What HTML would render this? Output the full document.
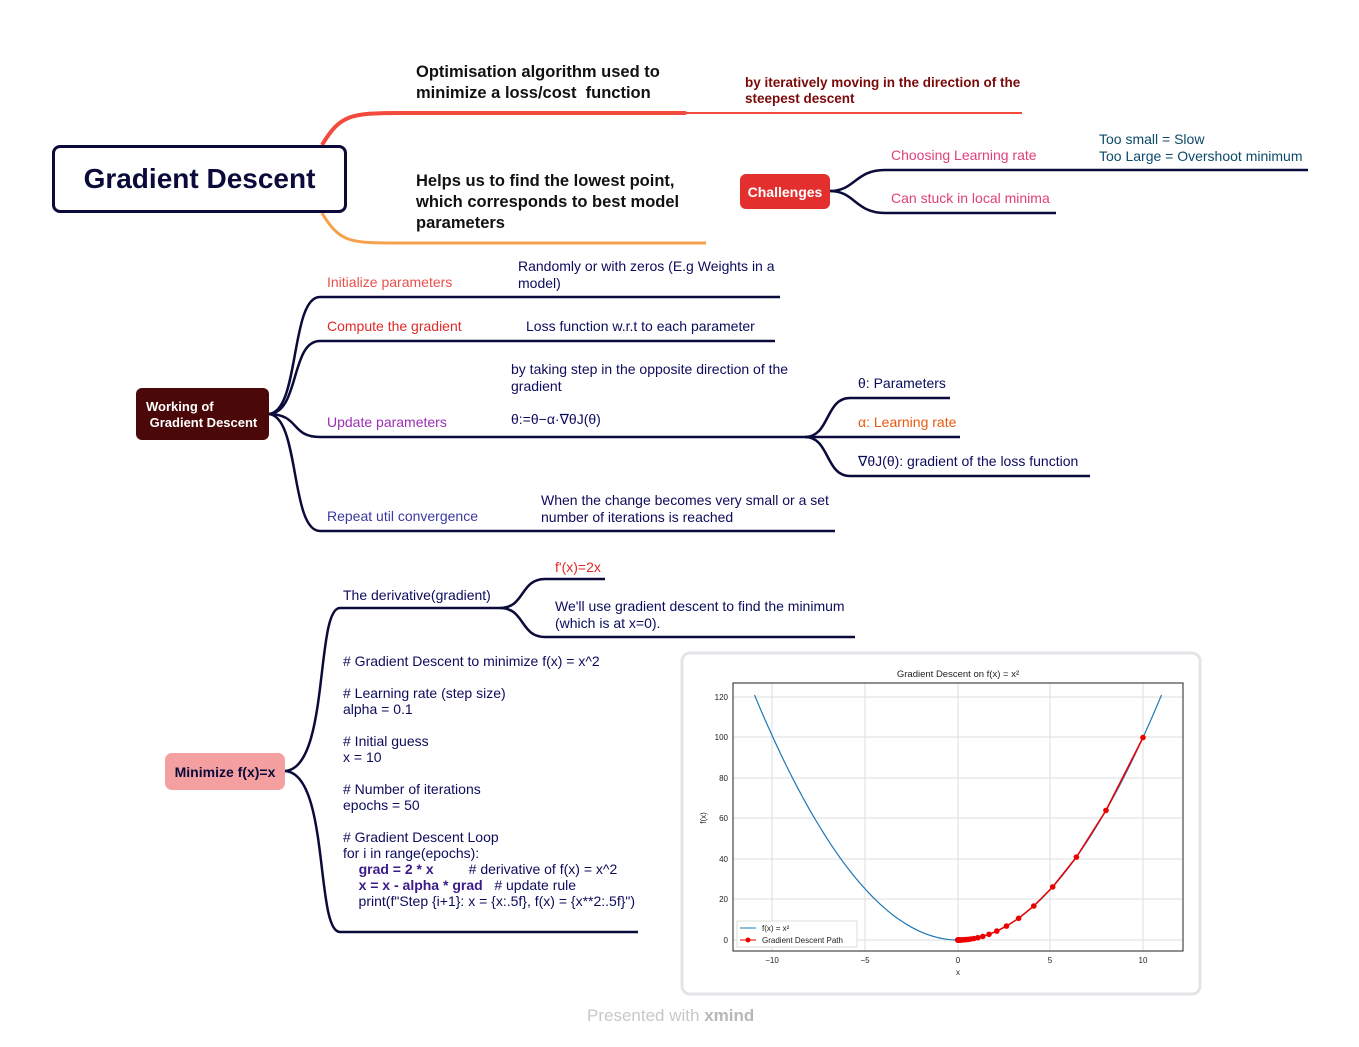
<!DOCTYPE html>
<html><head><meta charset="utf-8"><style>
body{margin:0;width:1359px;height:1047px;background:#fff;position:relative;overflow:hidden;font-family:"Liberation Sans",sans-serif}
.t{position:absolute;white-space:nowrap;line-height:1.18}
.n{color:#0c0c5c;font-size:14px}
.h{color:#000;font-size:17px;line-height:21px}
</style></head><body>
<svg width="1359" height="1047" style="position:absolute;left:0;top:0" fill="none">
<path d="M322,145 C340,115 350,113 400,113 L686,113" stroke="#f24a3c" stroke-width="4"/>
<path d="M686,113 L1022,113" stroke="#f24a3c" stroke-width="2"/>
<path d="M322,213 C340,243 350,243 400,243 L706,243" stroke="#f6a04a" stroke-width="3"/>
<path d="M830,191 C855,191 855,170 885,170 L1040,170" stroke="#0b0b3b" stroke-width="2.5"/>
<path d="M1040,170 L1308,170" stroke="#0b0b3b" stroke-width="2.5"/>
<path d="M830,191 C855,191 855,213 885,213 L1056,213" stroke="#0b0b3b" stroke-width="2.5"/>
<g stroke="#0b0b3b" stroke-width="2.5">
<path d="M268,414 C300,414 290,297 320,297 L780,297"/>
<path d="M268,414 C300,414 290,341 320,341 L775,341"/>
<path d="M268,414 C300,414 290,437 320,437 L805,437"/>
<path d="M268,414 C300,414 290,531 320,531 L835,531"/>
<path d="M805,437 C830,437 825,398 850,398 L950,398"/>
<path d="M805,437 L960,437"/>
<path d="M805,437 C830,437 825,476 850,476 L1090,476"/>
<path d="M284,771 C330,771 315,608 340,608 L500,608"/>
<path d="M284,771 C330,771 315,932 340,932 L638,932"/>
<path d="M500,608 C525,608 520,579 545,579 L605,579"/>
<path d="M500,608 C525,608 520,637 545,637 L855,637"/>
</g>
<rect x="682" y="653" width="518" height="341" rx="8" stroke="#e4e4e8" stroke-width="3" fill="#fff"/>
<g stroke="#ddd" stroke-width="1">
<line x1="772" y1="683" x2="772" y2="951"/><line x1="865" y1="683" x2="865" y2="951"/><line x1="958" y1="683" x2="958" y2="951"/><line x1="1050" y1="683" x2="1050" y2="951"/><line x1="1143" y1="683" x2="1143" y2="951"/>
<line x1="733" y1="940" x2="1183" y2="940"/><line x1="733" y1="899" x2="1183" y2="899"/><line x1="733" y1="859" x2="1183" y2="859"/><line x1="733" y1="818" x2="1183" y2="818"/><line x1="733" y1="778" x2="1183" y2="778"/><line x1="733" y1="737" x2="1183" y2="737"/><line x1="733" y1="697" x2="1183" y2="697"/>
</g>
<rect x="733" y="683" width="450" height="268" stroke="#222" stroke-width="1"/>
<path id="par" stroke="#1f77b4" stroke-width="1.2"/>
<path id="gd" stroke="#e00" stroke-width="1.5"/>
<g id="dots" fill="#e00"></g>
<g font-size="8" fill="#222" font-family="Liberation Sans,sans-serif">
<text x="958" y="677" text-anchor="middle" font-size="9.5">Gradient Descent on f(x) = x²</text>
<text x="772" y="963" text-anchor="middle">−10</text><text x="865" y="963" text-anchor="middle">−5</text><text x="958" y="963" text-anchor="middle">0</text><text x="1050" y="963" text-anchor="middle">5</text><text x="1143" y="963" text-anchor="middle">10</text>
<text x="958" y="975" text-anchor="middle">x</text>
<text x="728" y="943" text-anchor="end">0</text><text x="728" y="902" text-anchor="end">20</text><text x="728" y="862" text-anchor="end">40</text><text x="728" y="821" text-anchor="end">60</text><text x="728" y="781" text-anchor="end">80</text><text x="728" y="740" text-anchor="end">100</text><text x="728" y="700" text-anchor="end">120</text>
<text transform="translate(706,818) rotate(-90)" text-anchor="middle">f(x)</text>
</g>
<rect x="737" y="921" width="120" height="26" fill="#fff" stroke="#ddd"/>
<line x1="740" y1="928" x2="756" y2="928" stroke="#1f77b4"/>
<line x1="740" y1="940" x2="756" y2="940" stroke="#e00"/><circle cx="748" cy="940" r="2.5" fill="#e00"/>
<text x="762" y="931" font-size="8" fill="#222" font-family="Liberation Sans,sans-serif">f(x) = x²</text>
<text x="762" y="943" font-size="8" fill="#222" font-family="Liberation Sans,sans-serif">Gradient Descent Path</text>
</svg>
<script>
(function(){var X=function(x){return 958+x*18.5},Y=function(y){return 940-y*2.025};
var d="";for(var i=0;i<=110;i++){var x=-11+i*0.2;d+=(i?"L":"M")+X(x).toFixed(1)+","+Y(x*x).toFixed(1)}
document.getElementById("par").setAttribute("d",d);
var g="",c="";for(var k=0;k<=50;k++){var x=10*Math.pow(0.8,k);g+=(k?"L":"M")+X(x).toFixed(1)+","+Y(x*x).toFixed(1);c+='<circle cx="'+X(x).toFixed(1)+'" cy="'+Y(x*x).toFixed(1)+'" r="2.8"/>'}
document.getElementById("gd").setAttribute("d",g);document.getElementById("dots").innerHTML=c;})();
</script>

<div style="position:absolute;left:52px;top:145px;width:295px;height:68px;border:3px solid #0b0b3b;border-radius:8px;box-sizing:border-box;display:flex;align-items:center;justify-content:center;font-weight:bold;font-size:28px;color:#0b0b3b">Gradient Descent</div>
<div class="t h" style="left:416px;top:62px;font-weight:bold;font-size:16.5px;color:#111">Optimisation algorithm used to<br>minimize a loss/cost&nbsp; function</div>
<div class="t" style="left:745px;top:75px;font-size:13.5px;font-weight:bold;color:#7a0a0a">by iteratively moving in the direction of the<br>steepest descent</div>
<div class="t h" style="left:416px;top:171px;font-weight:bold;font-size:16.5px;color:#111">Helps us to find the lowest point,<br>which corresponds to best model<br>parameters</div>
<div style="position:absolute;left:740px;top:174px;width:90px;height:35px;background:#e3302f;border-radius:6px;color:#fff;font-weight:bold;font-size:14px;display:flex;align-items:center;justify-content:center">Challenges</div>
<div class="t" style="left:891px;top:147px;font-size:14px;color:#e0407a">Choosing Learning rate</div>
<div class="t" style="left:891px;top:190px;font-size:14px;color:#e0407a">Can stuck in local minima</div>
<div class="t" style="left:1099px;top:131px;font-size:14px;color:#0b4a6a">Too small = Slow<br>Too Large = Overshoot minimum</div>

<div style="position:absolute;left:136px;top:388px;width:133px;height:52px;background:#4a0808;border-radius:6px;color:#fff;font-weight:bold;font-size:13px;line-height:16px;box-sizing:border-box;padding:11px 0 0 10px">Working of<br>&nbsp;Gradient Descent</div>
<div class="t" style="left:327px;top:274px;font-size:14px;color:#e8504a">Initialize parameters</div>
<div class="t n" style="left:518px;top:258px">Randomly or with zeros (E.g Weights in a<br>model)</div>
<div class="t" style="left:327px;top:318px;font-size:14px;color:#e02a2a">Compute the gradient</div>
<div class="t n" style="left:526px;top:318px">Loss function w.r.t to each parameter</div>
<div class="t" style="left:327px;top:414px;font-size:14px;color:#9b2fb5">Update parameters</div>
<div class="t n" style="left:511px;top:361px">by taking step in the opposite direction of the<br>gradient</div>
<div class="t n" style="left:511px;top:411px">θ:=θ−α·∇θJ(θ)</div>
<div class="t n" style="left:858px;top:375px">θ: Parameters</div>
<div class="t" style="left:858px;top:414px;font-size:14px;color:#e85a10">α: Learning rate</div>
<div class="t n" style="left:858px;top:453px">∇θJ(θ): gradient of the loss function</div>
<div class="t" style="left:327px;top:508px;font-size:14px;color:#3a3aa0">Repeat util convergence</div>
<div class="t n" style="left:541px;top:492px">When the change becomes very small or a set<br>number of iterations is reached</div>

<div style="position:absolute;left:165px;top:753px;width:120px;height:37px;background:#f4a0a0;border-radius:7px;color:#0b0b3b;font-weight:bold;font-size:14px;display:flex;align-items:center;justify-content:center">Minimize f(x)=x</div>
<div class="t n" style="left:343px;top:587px">The derivative(gradient)</div>
<div class="t" style="left:555px;top:559px;font-size:14px;color:#e02a2a">f'(x)=2x</div>
<div class="t n" style="left:555px;top:598px">We'll use gradient descent to find the minimum<br>(which is at x=0).</div>
<div class="t n" style="left:343px;top:653px;line-height:16px">
# Gradient Descent to minimize f(x) = x^2<br><br>
# Learning rate (step size)<br>alpha = 0.1<br><br>
# Initial guess<br>x = 10<br><br>
# Number of iterations<br>epochs = 50<br><br>
# Gradient Descent Loop<br>for i in range(epochs):<br>
&nbsp;&nbsp;&nbsp;&nbsp;<b style="color:#3a1a8a">grad = 2 * x</b>&nbsp;&nbsp;&nbsp;&nbsp;&nbsp;&nbsp;&nbsp;&nbsp; # derivative of f(x) = x^2<br>
&nbsp;&nbsp;&nbsp;&nbsp;<b style="color:#3a1a8a">x = x - alpha * grad</b>&nbsp;&nbsp; # update rule<br>
&nbsp;&nbsp;&nbsp;&nbsp;print(f"Step {i+1}: x = {x:.5f}, f(x) = {x**2:.5f}")</div>
<div class="t" style="left:587px;top:1006px;font-size:17px;color:#c8c8c8">Presented with <b style="color:#b8b8b8">xmind</b></div>
</body></html>
